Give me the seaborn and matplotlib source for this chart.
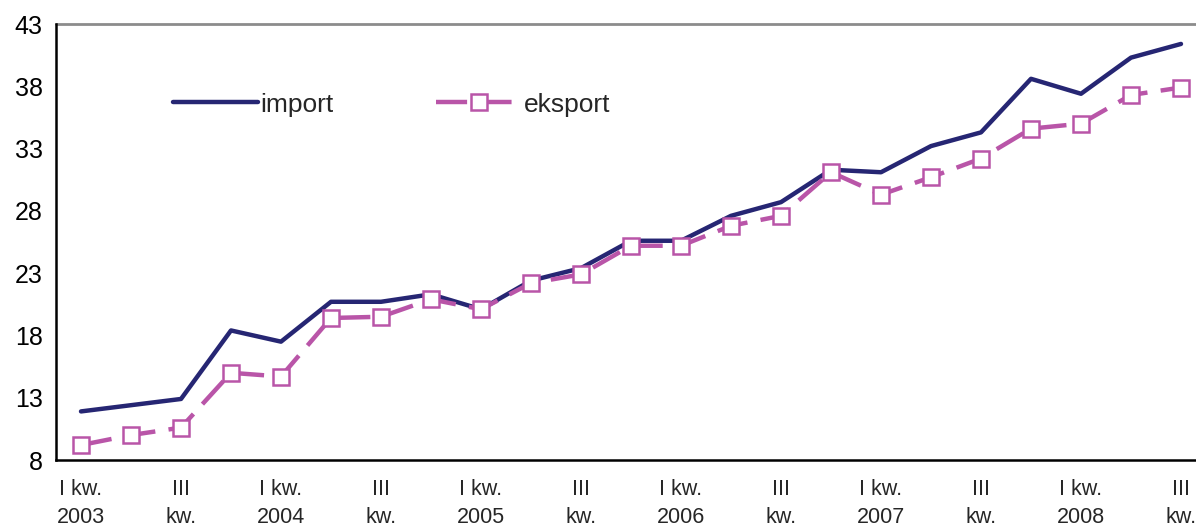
import numpy as np
import pandas as pd
import matplotlib
matplotlib.use("Agg")
import matplotlib.pyplot as plt
import seaborn as sns

# quarters I kw. 2003 .. III kw. 2008
quarters = [f"{q} {y}" for y in range(2003, 2009) for q in ["I", "II", "III", "IV"]][:23]
import_vals = [11.9, 12.4, 12.9, 18.4, 17.5, 20.7, 20.7, 21.3, 20.1, 22.4, 23.4, 25.6,
               25.6, 27.6, 28.7, 31.3, 31.1, 33.2, 34.3, 38.6, 37.4, 40.3, 41.4]
eksport_vals = [9.2, 10.0, 10.6, 15.0, 14.7, 19.4, 19.5, 20.9, 20.1, 22.2, 22.9, 25.2,
                25.2, 26.8, 27.6, 31.1, 29.3, 30.7, 32.2, 34.6, 35.0, 37.3, 37.9]
tick_labels = ["I kw.\n2003", "III\nkw.", "I kw.\n2004", "III\nkw.", "I kw.\n2005", "III\nkw.",
               "I kw.\n2006", "III\nkw.", "I kw.\n2007", "III\nkw.", "I kw.\n2008", "III\nkw."]

df = pd.DataFrame({"pos": np.arange(len(quarters)), "quarter": quarters,
                   "import": import_vals, "eksport": eksport_vals})

sns.set_style("white")
plt.rcParams["font.family"] = ["Liberation Sans", "DejaVu Sans"]

fig = plt.figure(figsize=(11.96, 5.26), dpi=100)
ax = fig.add_axes([56 / 1196, 1 - 460 / 526, 1 - 56 / 1196, 436 / 526])

sns.lineplot(data=df, x="pos", y="import", ax=ax, color="#262673", lw=3.2,
             label="import", solid_capstyle="round")
sns.lineplot(data=df, x="pos", y="eksport", ax=ax, color="#B955A8", lw=3.2,
             marker="s", markersize=12, markerfacecolor="white",
             markeredgecolor="#B955A8", markeredgewidth=1.8,
             dashes=(7, 3), label="eksport")

ax.set_xlim(-0.5, 22.3)
ax.set_ylim(8, 43)
ax.set_yticks(np.arange(8, 44, 5))
ax.set_xticks(np.arange(-0.5, 22.5, 1), minor=False)
ax.set_xticklabels([])
ax.set_xticks(np.arange(0, 23, 2), minor=True)
ax.set_xticklabels(tick_labels, minor=True, linespacing=1.38)
ax.tick_params(axis="x", which="major", direction="out", length=6, width=1.5, color="black")
ax.tick_params(axis="x", which="minor", length=0, labelsize=15.5, pad=14)
ax.tick_params(axis="y", direction="out", length=6, width=1.5, labelsize=18, colors="black")
ax.set_xlabel("")
ax.set_ylabel("")

for s in ["right", "top"]:
    ax.spines[s].set_visible(False)
for s in ["left", "bottom"]:
    ax.spines[s].set_color("black")
    ax.spines[s].set_linewidth(1.8)
ax.axhline(43, color="#8c8c8c", lw=2, clip_on=False)

ax.legend(loc="upper left", bbox_to_anchor=(0.082, 0.897), ncol=2, frameon=False,
          fontsize=19, handlelength=3.2, handletextpad=0.1, columnspacing=3.9)

fig.savefig("out.png", dpi=100)
